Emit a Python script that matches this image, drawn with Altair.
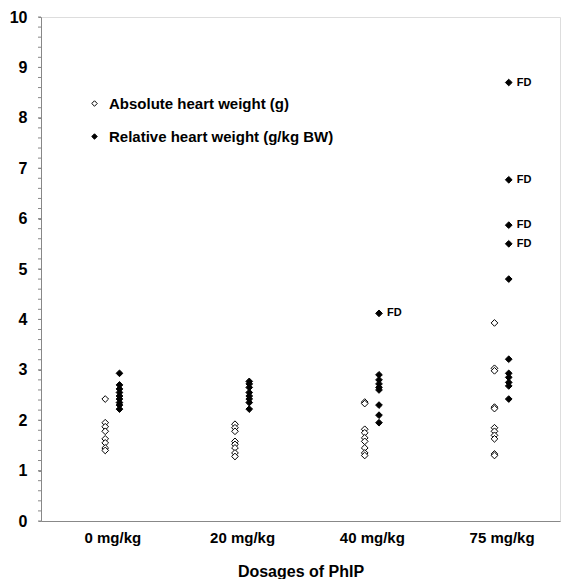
import altair as alt
import pandas as pd

doses = ["0 mg/kg", "20 mg/kg", "40 mg/kg", "75 mg/kg"]
series_names = ["Absolute heart weight (g)", "Relative heart weight (g/kg BW)"]

abs_0 = [2.42, 1.95, 1.87, 1.78, 1.63, 1.55, 1.45, 1.40]
rel_0 = [2.93, 2.70, 2.62, 2.55, 2.48, 2.42, 2.35, 2.30, 2.22]
abs_20 = [1.92, 1.85, 1.78, 1.58, 1.52, 1.45, 1.35, 1.28]
rel_20 = [2.77, 2.72, 2.65, 2.55, 2.48, 2.42, 2.35, 2.22]
abs_40 = [2.36, 2.33, 1.82, 1.75, 1.65, 1.58, 1.45, 1.35, 1.30]
rel_40 = [4.12, 2.90, 2.80, 2.72, 2.65, 2.60, 2.30, 2.10, 1.95]
abs_75 = [3.93, 3.03, 2.98, 2.26, 2.23, 1.85, 1.78, 1.70, 1.63, 1.33, 1.30]
rel_75 = [8.70, 6.77, 5.87, 5.50, 4.80, 3.21, 2.93, 2.85, 2.75, 2.68, 2.42]
# animals found dead (FD): index into relative series
fd_40 = [0]
fd_75 = [0, 1, 2, 3]

y_major = list(range(0, 11))
y_minor = [round(i * 0.2, 1) for i in range(51)]

groups = [(abs_0, rel_0, []), (abs_20, rel_20, []), (abs_40, rel_40, fd_40), (abs_75, rel_75, fd_75)]
rows = []
for gi, (a, r, fd) in enumerate(groups):
    for v in a:
        rows.append({"g": gi, "series": series_names[0], "value": v, "fd": ""})
    for k, v in enumerate(r):
        rows.append({"g": gi, "series": series_names[1], "value": v, "fd": "FD" if k in fd else ""})
df = pd.DataFrame(rows)
minor_df = pd.DataFrame({"value": y_minor})

font = "Liberation Sans"
label_js = "[" + ",".join("'" + d + "'" for d in doses) + "]"

base = alt.Chart(df).transform_calculate(
    xpos="datum.g + (datum.series == '" + series_names[0] + "' ? -0.055 : 0.055)"
)

x_enc = alt.X(
    "xpos:Q",
    scale=alt.Scale(domain=[-0.55, 3.45], nice=False, zero=False),
    axis=alt.Axis(
        values=[0, 1, 2, 3],
        labelExpr=label_js + "[datum.value]",
        ticks=False,
        grid=False,
        labelFont=font,
        labelFontWeight="bold",
        labelFontSize=15,
        labelColor="black",
        labelPadding=9,
        labelOverlap=False,
        domainColor="#888888",
        title="Dosages of PhIP",
        titleFont=font,
        titleFontWeight="bold",
        titleFontSize=16,
        titleColor="black",
        titlePadding=18,
    ),
)
y_enc = alt.Y(
    "value:Q",
    scale=alt.Scale(domain=[0, 10], nice=False),
    axis=alt.Axis(
        values=y_major,
        format="d",
        labelOverlap=False,
        grid=False,
        tickSize=3,
        tickColor="#888888",
        domainColor="#888888",
        labelFont=font,
        labelFontWeight="bold",
        labelFontSize=16,
        labelColor="black",
        labelPadding=11,
        title=None,
    ),
)

points = base.mark_point(shape="diamond", size=45, filled=True, stroke="black", strokeWidth=1, opacity=1).encode(
    x=x_enc,
    y=y_enc,
    fill=alt.Fill(
        "series:N",
        scale=alt.Scale(domain=series_names, range=["white", "black"]),
        legend=alt.Legend(
            title=None,
            orient="none",
            legendX=46,
            legendY=79,
            symbolType="diamond",
            symbolSize=30,
            symbolStrokeColor="black",
            symbolStrokeWidth=1,
            labelFont=font,
            labelFontWeight="bold",
            labelFontSize=15,
            labelColor="black",
            labelOffset=7,
            labelLimit=400,
            rowPadding=17,
        ),
    ),
)

minor_ticks = alt.Chart(minor_df).mark_rule(color="#888888", strokeWidth=1).encode(
    y="value:Q", x=alt.value(-3), x2=alt.value(0)
)

labels = base.transform_filter("datum.fd != ''").mark_text(
    align="left", baseline="middle", dx=8, font=font, fontWeight="bold", fontSize=11, color="black"
).encode(x="xpos:Q", y="value:Q", text="fd:N")

chart = (
    alt.layer(points, minor_ticks, labels)
    .properties(
        width=519,
        height=504,
        autosize=alt.AutoSizeParams(type="none"),
        padding={"left": 33, "top": 9, "right": 4, "bottom": 58},
    )
    .configure_view(stroke=None)
    .configure(background="white")
)

chart.save("out.html", embed_options={"renderer": "svg", "actions": False})
